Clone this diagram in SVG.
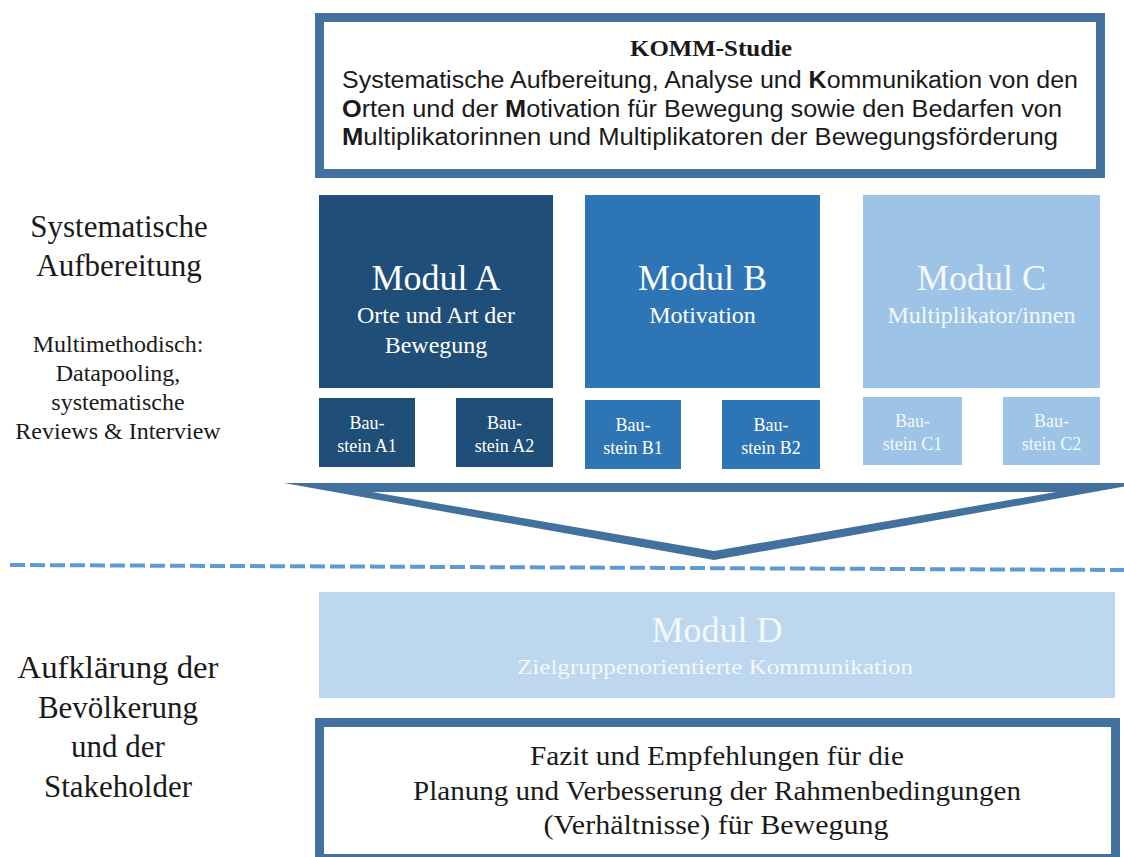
<svg xmlns="http://www.w3.org/2000/svg" width="1124" height="857" viewBox="0 0 1124 857">
  <style>
    .serif { font-family: "Liberation Serif", "Times New Roman", serif; }
    .sans { font-family: "Liberation Sans", Arial, sans-serif; }
    .frame { fill: #ffffff; stroke: #41719c; stroke-width: 9; }
    .modA { fill: #1f4e79; }
    .modB { fill: #2e75b6; }
    .modC { fill: #9dc3e6; }
    .modD { fill: #bdd7ee; }
    .wt { fill: #ffffff; text-anchor: middle; }
    .lt { fill: #f4f8fc; text-anchor: middle; }
    .dk { fill: #1a1a1a; text-anchor: middle; }
    .title { font-size: 36px; }
    .sub { font-size: 24px; }
    .bs { font-size: 18px; }
    .side { font-size: 31px; }
    .side2 { font-size: 24px; }
  </style>

  <!-- Study header -->
  <g id="komm-studie">
    <rect class="frame" x="319.5" y="17.5" width="781" height="156"/>
    <text class="serif dk" x="711" y="56" font-size="24" font-weight="bold" textLength="162" lengthAdjust="spacingAndGlyphs">KOMM-Studie</text>
    <text class="sans dk" x="710" y="88" font-size="23" textLength="736" lengthAdjust="spacingAndGlyphs">Systematische Aufbereitung, Analyse und <tspan font-weight="bold">K</tspan>ommunikation von den</text>
    <text class="sans dk" x="702" y="117" font-size="23" textLength="720" lengthAdjust="spacingAndGlyphs"><tspan font-weight="bold">O</tspan>rten und der <tspan font-weight="bold">M</tspan>otivation für Bewegung sowie den Bedarfen von</text>
    <text class="sans dk" x="700" y="145" font-size="23" textLength="716" lengthAdjust="spacingAndGlyphs"><tspan font-weight="bold">M</tspan>ultiplikatorinnen und Multiplikatoren der Bewegungsförderung</text>
  </g>

  <!-- Left labels -->
  <g id="label-aufbereitung">
    <text class="serif dk side" x="119" y="237">Systematische</text>
    <text class="serif dk side" x="119" y="276">Aufbereitung</text>
    <text class="serif dk side2" x="118" y="352">Multimethodisch:</text>
    <text class="serif dk side2" x="118" y="381">Datapooling,</text>
    <text class="serif dk side2" x="118" y="410">systematische</text>
    <text class="serif dk side2" x="118" y="439">Reviews &amp; Interview</text>
  </g>
  <g id="label-aufklaerung">
    <text class="serif dk side" x="118" y="678" textLength="201" lengthAdjust="spacingAndGlyphs">Aufklärung der</text>
    <text class="serif dk side" x="118" y="718">Bevölkerung</text>
    <text class="serif dk side" x="118" y="757">und der</text>
    <text class="serif dk side" x="118" y="797">Stakeholder</text>
  </g>

  <!-- Module A -->
  <g id="modul-a">
    <rect class="modA" x="319" y="195" width="234" height="193"/>
    <text class="serif wt title" x="436" y="290">Modul A</text>
    <text class="serif wt sub" x="436" y="323">Orte und Art der</text>
    <text class="serif wt sub" x="436" y="353">Bewegung</text>
  </g>
  <g id="baustein-a1">
    <rect class="modA" x="319" y="398" width="96" height="69"/>
    <text class="serif wt bs" x="367" y="429">Bau-</text>
    <text class="serif wt bs" x="367" y="452">stein A1</text>
  </g>
  <g id="baustein-a2">
    <rect class="modA" x="456" y="398" width="97" height="69"/>
    <text class="serif wt bs" x="504.5" y="429">Bau-</text>
    <text class="serif wt bs" x="504.5" y="452">stein A2</text>
  </g>

  <!-- Module B -->
  <g id="modul-b">
    <rect class="modB" x="585" y="195" width="235" height="193"/>
    <text class="serif wt title" x="702.5" y="290">Modul B</text>
    <text class="serif wt sub" x="702.5" y="323">Motivation</text>
  </g>
  <g id="baustein-b1">
    <rect class="modB" x="585" y="400" width="96" height="69"/>
    <text class="serif wt bs" x="633" y="431">Bau-</text>
    <text class="serif wt bs" x="633" y="454">stein B1</text>
  </g>
  <g id="baustein-b2">
    <rect class="modB" x="722" y="400" width="98" height="69"/>
    <text class="serif wt bs" x="771" y="431">Bau-</text>
    <text class="serif wt bs" x="771" y="454">stein B2</text>
  </g>

  <!-- Module C -->
  <g id="modul-c">
    <rect class="modC" x="863" y="195" width="237" height="193"/>
    <text class="serif lt title" x="981.5" y="290">Modul C</text>
    <text class="serif lt sub" x="981.5" y="323">Multiplikator/innen</text>
  </g>
  <g id="baustein-c1">
    <rect class="modC" x="863" y="397" width="99" height="68"/>
    <text class="serif lt bs" x="912.5" y="427">Bau-</text>
    <text class="serif lt bs" x="912.5" y="450">stein C1</text>
  </g>
  <g id="baustein-c2">
    <rect class="modC" x="1003" y="397" width="97" height="68"/>
    <text class="serif lt bs" x="1051.5" y="427">Bau-</text>
    <text class="serif lt bs" x="1051.5" y="450">stein C2</text>
  </g>

  <!-- Connectors: merge chevron and section divider -->
  <g id="connectors">
    <path d="M284 483 L1144 483 L714 560 Z M372 492 L714 551 L1056 492 Z" fill="#41719c" fill-rule="evenodd"/>
    <line x1="10" y1="565" x2="1124" y2="570" stroke="#5b9bd5" stroke-width="4" stroke-dasharray="15 5"/>
  </g>

  <!-- Module D -->
  <g id="modul-d">
    <rect class="modD" x="319" y="592" width="796" height="106"/>
    <text class="serif lt title" x="717" y="642">Modul D</text>
    <text class="serif lt" x="715" y="674" font-size="22" textLength="396" lengthAdjust="spacingAndGlyphs">Zielgruppenorientierte  Kommunikation</text>
  </g>

  <!-- Conclusions -->
  <g id="fazit">
    <rect class="frame" x="319.5" y="722.5" width="796" height="136"/>
    <text class="serif dk" x="717" y="765" font-size="27" textLength="374" lengthAdjust="spacingAndGlyphs">Fazit und Empfehlungen für die</text>
    <text class="serif dk" x="717" y="800" font-size="27" textLength="608" lengthAdjust="spacingAndGlyphs">Planung und Verbesserung der Rahmenbedingungen</text>
    <text class="serif dk" x="716" y="834" font-size="27" textLength="345" lengthAdjust="spacingAndGlyphs">(Verhältnisse) für Bewegung</text>
  </g>
</svg>
